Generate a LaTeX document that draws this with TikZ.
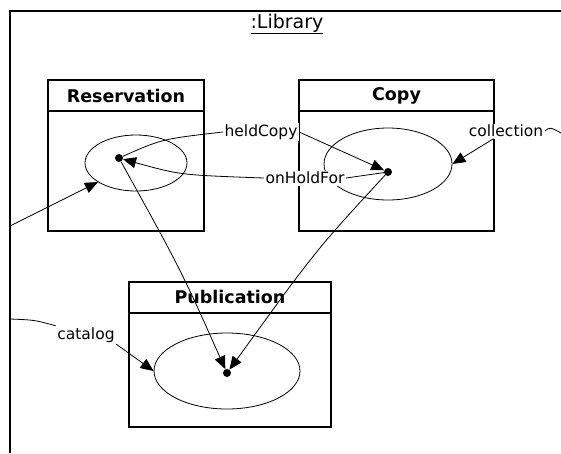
\documentclass[tikz,border=0pt]{standalone}
\usepackage{fontspec}
\setmainfont{DejaVu Sans}
\usetikzlibrary{shapes.geometric,arrows.meta}

\begin{document}
\begin{tikzpicture}[x=1pt,y=-1pt,
    frame/.style={line width=1.8pt},
    lbl/.style={fill=white,inner sep=1.5pt,font=\fontsize{15.5}{18}\selectfont},
    cls/.style={inner sep=0pt,font=\fontsize{17.5}{20}\selectfont\bfseries},
    obj/.style={draw,ellipse,inner sep=0pt,line width=0.8pt},
    objdot/.style={circle,fill,inner sep=0pt,minimum size=8pt},
    link/.style={line width=0.8pt},
    arr/.style={-{Triangle[length=13pt,width=11pt]}}]
    \useasboundingbox (0,0) rectangle (561,453);
    \draw [frame] (561,11) -- (10,11) -- (10,453);
    \node [inner sep=0pt,font=\fontsize{19}{22}\selectfont] (library) at (287,24) {\underline{:Library}};
    % classes
    \draw [frame] (48,80) rectangle (204,231);
    \draw [frame] (48,111) -- (204,111);
    \node [cls] (restitle) at (126,96) {Reservation};
    \draw [frame] (299,80) rectangle (494,231);
    \draw [frame] (299,111) -- (494,111);
    \node [cls] (copytitle) at (396.5,96) {Copy};
    \draw [frame] (129,282) rectangle (331,427);
    \draw [frame] (129,313) -- (331,313);
    \node [cls] (pubtitle) at (230,297) {Publication};
    % objects
    \node [obj,minimum width=102pt,minimum height=56pt] (resell) at (136,163) {};
    \node [obj,minimum width=128pt,minimum height=72pt] (copyell) at (388,164) {};
    \node [obj,minimum width=146pt,minimum height=76pt] (pubell) at (227,371) {};
    \node [objdot] (resdot) at (119,158) {};
    \node [objdot] (copydot) at (388,172) {};
    \node [objdot] (pubdot) at (227,373) {};
    % role names
    \node [lbl] (held) at (261,132) {heldCopy};
    \node [lbl] (hold) at (305,178) {onHoldFor};
    \node [lbl] (coll) at (506,131) {collection};
    \node [lbl] (cat) at (86,335) {catalog};
    \coordinate (resin) at (10,226);
    \coordinate (catin) at (10,319);
    \coordinate (collout) at (561,133);
    % links
    \draw [link] (resdot) .. controls (162,139) .. (held.west);
    \draw [link,arr] (held.east) -- (copydot);
    \draw [link] (copydot) -- (hold.east);
    \draw [link,arr] (hold.west) .. controls (180,175) .. (resdot);
    \draw [link,arr] (coll) -- (copyell.east);
    \draw [link] (coll.east) .. controls (550,127) .. (collout);
    \draw [link,arr] (resin) -- (resell);
    \draw [link] (catin) .. controls (35,320) .. (cat.north west);
    \draw [link,arr] (cat.south east) -- (pubell.west);
    \draw [link,arr] (resdot) .. controls (181,270) .. (pubdot);
    \draw [link,arr] (copydot) .. controls (316,250) .. (pubdot);
\end{tikzpicture}
\end{document}
